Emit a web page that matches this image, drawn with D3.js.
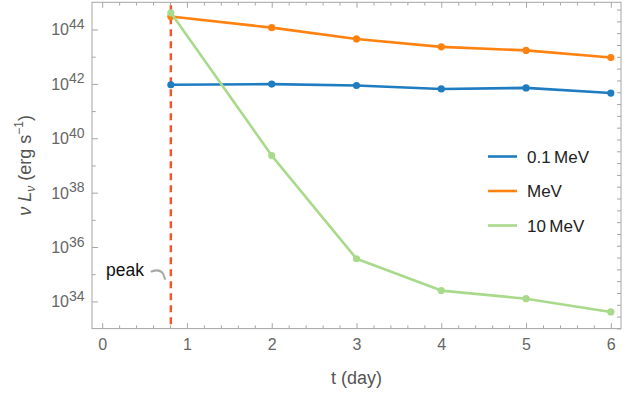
<!DOCTYPE html>
<html>
<head>
<meta charset="utf-8">
<script src="https://cdn.jsdelivr.net/npm/d3@7"></script>
<style>
  html, body { margin: 0; padding: 0; background: #fff; }
  svg { display: block; font-family: "Liberation Sans", Arial, sans-serif; }
</style>
</head>
<body>
<svg id="chart" width="634" height="394"></svg>
<script>
// Sampling times (days) and luminosities (erg/s) for the three energy bands
const times = [0.81, 2, 3, 4, 5, 6];
const lum01MeV = [9.3e41, 9.8e41, 8.7e41, 6.5e41, 7.1e41, 4.6e41];
const lum1MeV = [3.0e44, 1.17e44, 4.5e43, 2.3e43, 1.7e43, 9.3e42];
const lum10MeV = [4.1e44, 2.3e39, 3.7e35, 2.5e34, 1.26e34, 4.1e33];
const seriesNames = ["0.1\u2009MeV", "MeV", "10\u2009MeV"];
const seriesColors = ["#1f7cc1", "#ff8210", "#a9da8c"];
const peakTime = 0.81;
const xTicks = [0, 1, 2, 3, 4, 5, 6];
const yTickExponents = [34, 36, 38, 40, 42, 44];

const svg = d3.select("#chart");
const frame = { left: 92, right: 621, top: 2.3, bottom: 328.6 };

const x = d3.scaleLinear().domain([-0.12, 6.12]).range([frame.left, frame.right]);
const y = d3.scaleLog().domain([1e33, 1e45]).range([frame.bottom, frame.top]);

const frameColor = "#a6a6a6";
const labelColor = "#666";

// Frame box
svg.append("rect")
  .attr("x", frame.left).attr("y", frame.top)
  .attr("width", frame.right - frame.left).attr("height", frame.bottom - frame.top)
  .attr("fill", "none").attr("stroke", frameColor).attr("stroke-width", 1);

// Bottom/top ticks: majors at integer days, minors every 0.2 day
const xMinor = d3.range(0, 6.01, 0.2).map(v => +v.toFixed(1)).filter(v => Math.abs(v - Math.round(v)) > 1e-6);
const bottomAxis = svg.append("g").attr("transform", `translate(0,${frame.bottom})`);
bottomAxis.call(d3.axisBottom(x).tickValues(xTicks).tickSize(-5.5).tickFormat(d3.format("d")).tickPadding(10));
const bottomMinor = svg.append("g").attr("transform", `translate(0,${frame.bottom})`);
bottomMinor.call(d3.axisBottom(x).tickValues(xMinor).tickSize(-3.2).tickFormat(""));
const topAxis = svg.append("g").attr("transform", `translate(0,${frame.top})`);
topAxis.call(d3.axisTop(x).tickValues(xTicks).tickSize(-5.5).tickFormat(""));
const topMinor = svg.append("g").attr("transform", `translate(0,${frame.top})`);
topMinor.call(d3.axisTop(x).tickValues(xMinor).tickSize(-3.2).tickFormat(""));

// Left ticks: labelled majors every two decades, minors on odd decades
const yMajor = yTickExponents.map(e => Math.pow(10, e));
const yMinor = [35, 37, 39, 41, 43].map(e => Math.pow(10, e));
const leftAxis = svg.append("g").attr("transform", `translate(${frame.left},0)`);
leftAxis.call(d3.axisLeft(y).tickValues(yMajor).tickSize(-6).tickFormat(""));
const leftMinor = svg.append("g").attr("transform", `translate(${frame.left},0)`);
leftMinor.call(d3.axisLeft(y).tickValues(yMinor).tickSize(-3.7).tickFormat(""));

// Right ticks at integer powers of e
const eTicks = d3.range(Math.ceil(33 * Math.LN10), Math.floor(45 * Math.LN10) + 1).map(n => Math.exp(n));
const rightAxis = svg.append("g").attr("transform", `translate(${frame.right},0)`);
rightAxis.call(d3.axisRight(y).tickValues(eTicks).tickSize(-4).tickFormat(""));

svg.selectAll(".domain").remove();
svg.selectAll(".tick line").attr("stroke", frameColor);
bottomAxis.selectAll(".tick text")
  .attr("fill", labelColor).attr("font-size", 16)
  .attr("font-family", "Liberation Sans, Arial, sans-serif");

// Power-of-ten labels for the left axis
const yLabels = svg.append("g");
yTickExponents.forEach(e => {
  const t = yLabels.append("text")
    .attr("x", 84.5).attr("y", y(Math.pow(10, e)) + 6)
    .attr("text-anchor", "end").attr("fill", labelColor).attr("font-size", 16);
  t.append("tspan").text("10");
  t.append("tspan").attr("dy", -6.5).attr("font-size", 14).text(e);
});

// Axis titles
svg.append("text")
  .attr("x", (frame.left + frame.right) / 2).attr("y", 384)
  .attr("text-anchor", "middle").attr("fill", "#555").attr("font-size", 18)
  .text("t (day)");

const yTitle = svg.append("text")
  .attr("transform", `translate(31,${(frame.top + frame.bottom) / 2}) rotate(-90)`)
  .attr("text-anchor", "middle").attr("fill", "#555").attr("font-size", 18);
yTitle.append("tspan").attr("font-style", "italic").text("\u03bd ");
yTitle.append("tspan").attr("font-style", "italic").text("L");
yTitle.append("tspan").attr("font-style", "italic").attr("font-size", 12).attr("dy", 4).text("\u03bd");
yTitle.append("tspan").attr("dy", -4).text(" (erg s");
yTitle.append("tspan").attr("font-size", 12).attr("dy", -8).text("\u22121");
yTitle.append("tspan").attr("dy", 8).text(")");

// Peak marker
svg.append("line")
  .attr("x1", x(peakTime)).attr("x2", x(peakTime))
  .attr("y1", frame.top + 3).attr("y2", frame.bottom)
  .attr("stroke", "#f05a2a").attr("stroke-width", 2.5)
  .attr("stroke-dasharray", "7,5");

svg.append("text")
  .attr("x", 106).attr("y", 276)
  .attr("fill", "#111").attr("font-size", 17.5)
  .text("peak");
svg.append("path")
  .attr("d", "M151.5,271.5 C157,269.5 161,270.5 163,273.5 L165,279")
  .attr("fill", "none").attr("stroke", "#a8a8a8").attr("stroke-width", 2)
  .attr("stroke-linecap", "round");

// Data series
const seriesData = [lum01MeV, lum1MeV, lum10MeV];
const line = d3.line().x(d => x(d[0])).y(d => y(d[1]));
seriesData.forEach((vals, i) => {
  const pts = times.map((t, j) => [t, vals[j]]);
  const g = svg.append("g");
  g.append("path")
    .attr("d", line(pts))
    .attr("fill", "none").attr("stroke", seriesColors[i])
    .attr("stroke-width", 2.6).attr("stroke-linejoin", "round");
  g.selectAll("circle").data(pts).join("circle")
    .attr("cx", d => x(d[0])).attr("cy", d => y(d[1]))
    .attr("r", 3.6).attr("fill", seriesColors[i]);
});

// Legend
const legend = svg.append("g");
seriesNames.forEach((name, i) => {
  const ly = 156.5 + i * 34.5;
  legend.append("line")
    .attr("x1", 488).attr("x2", 517).attr("y1", ly).attr("y2", ly)
    .attr("stroke", seriesColors[i]).attr("stroke-width", 2.6);
  legend.append("text")
    .attr("x", 527).attr("y", ly + 6)
    .attr("fill", "#222").attr("font-size", 17)
    .text(name);
});
</script>
</body>
</html>
